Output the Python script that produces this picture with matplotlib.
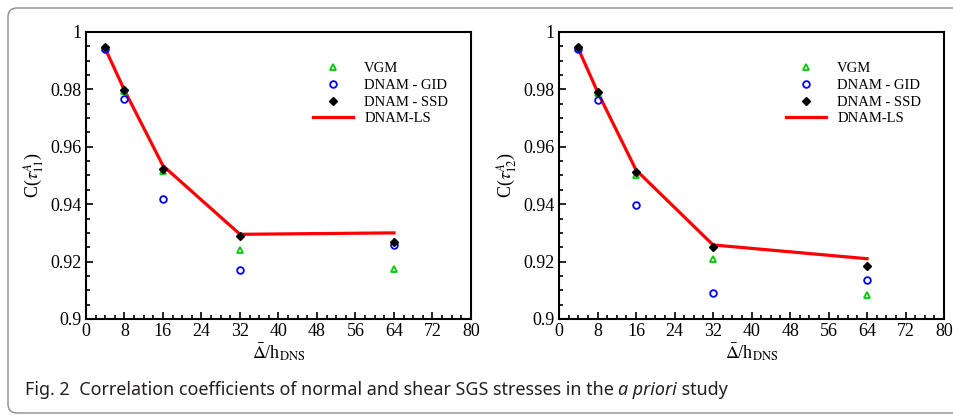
import numpy as np
import matplotlib
matplotlib.use('Agg')
import matplotlib.pyplot as plt
from matplotlib.patches import FancyBboxPatch
from matplotlib.transforms import IdentityTransform
from matplotlib.ticker import MultipleLocator

# filter width ratio
x_vals = [4, 8, 16, 32, 64]

# normal stress tau_11
vgm_11 = [0.9944, 0.9793, 0.9515, 0.9240, 0.9173]
gid_11 = [0.9941, 0.9767, 0.9418, 0.9169, 0.9258]
ssd_11 = [0.9949, 0.9797, 0.9524, 0.9288, 0.9267]
ls_11  = [0.9942, 0.9797, 0.9534, 0.9295, 0.9300]

# shear stress tau_12
vgm_12 = [0.9944, 0.9788, 0.9503, 0.9210, 0.9085]
gid_12 = [0.9940, 0.9762, 0.9396, 0.9091, 0.9136]
ssd_12 = [0.9948, 0.9790, 0.9513, 0.9251, 0.9186]
ls_12  = [0.9942, 0.9791, 0.9519, 0.9258, 0.9210]

y_ticks = [0.9, 0.92, 0.94, 0.96, 0.98, 1.0]
y_ticklabels = ['0.9', '0.92', '0.94', '0.96', '0.98', '1']
ylabels = [r'C($\tau_{11}^{A}$)', r'C($\tau_{12}^{A}$)']
xlabel = r'$\bar{\Delta}$/h$_{\rm DNS}$'

SERIF = ['Liberation Serif', 'DejaVu Serif']
SANS = ['Noto Sans', 'DejaVu Sans']
plt.rcParams['font.family'] = SERIF
plt.rcParams['mathtext.fontset'] = 'stix'

fig = plt.figure(figsize=(9.54, 4.16), dpi=100)
ax1 = fig.add_axes([0.0901, 0.2332, 0.4036, 0.690])
ax2 = fig.add_axes([0.5860, 0.2332, 0.4036, 0.690])

panels = [
    (ax1, vgm_11, gid_11, ssd_11, ls_11, ylabels[0]),
    (ax2, vgm_12, gid_12, ssd_12, ls_12, ylabels[1]),
]

for ax, vgm, gid, ssd, ls, ylab in panels:
    ax.plot(x_vals, ls, color='#ff0000', linewidth=2.3, label='DNAM-LS', zorder=2)
    ax.plot(x_vals, vgm, linestyle='none', marker='^', markersize=4.5,
            markerfacecolor='none', markeredgecolor='#00c800', markeredgewidth=1.3,
            label='VGM', zorder=3)
    ax.plot(x_vals, gid, linestyle='none', marker='o', markersize=4.8,
            markerfacecolor='none', markeredgecolor='#0000ff', markeredgewidth=1.3,
            label='DNAM - GID', zorder=3)
    ax.plot(x_vals, ssd, linestyle='none', marker='D', markersize=4.5,
            color='black', label='DNAM - SSD', zorder=4)

    ax.set_xlim(0, 80)
    ax.set_ylim(0.9, 1.0)
    ax.xaxis.set_major_locator(MultipleLocator(8))
    ax.xaxis.set_minor_locator(MultipleLocator(2))
    ax.yaxis.set_minor_locator(MultipleLocator(0.005))
    ax.set_yticks(y_ticks)
    ax.set_yticklabels(y_ticklabels)
    ax.tick_params(which='both', direction='in', top=False, right=False,
                   labelsize=13, width=1.2, pad=3)
    ax.tick_params(which='major', length=5)
    ax.tick_params(which='minor', length=3)
    for lbl in ax.get_xticklabels() + ax.get_yticklabels():
        lbl.set_fontfamily(SERIF)
    for spine in ax.spines.values():
        spine.set_linewidth(1.5)

    ax.set_xlabel(xlabel, fontsize=13, labelpad=1)
    ax.set_ylabel(ylab, fontsize=13, labelpad=3)

    h, l = ax.get_legend_handles_labels()
    order = [1, 2, 3, 0]
    ax.legend([h[i] for i in order], [l[i] for i in order],
              loc='upper left', bbox_to_anchor=(0.59, 0.895),
              frameon=False, fontsize=10.5, borderpad=0, borderaxespad=0,
              handlelength=2.75, handletextpad=0.75, labelspacing=0.24)

# outer rounded frame
frame = FancyBboxPatch((8, 3), 980, 405, boxstyle='round,pad=0,rounding_size=9',
                       transform=IdentityTransform(), facecolor='none',
                       edgecolor='#8c8c8c', linewidth=1.0, figure=fig)
fig.patches.append(frame)

# caption
cap_kw = dict(fontsize=12.9, family=SANS, color='#231f20', va='center')
t1 = fig.text(25 / 954, 1 - 390 / 416, 'Fig. 2', fontweight='bold', **cap_kw)
t2 = fig.text(0, 0, '')
t2 = plt.annotate('  Correlation coefficients of normal and shear SGS stresses in the ',
                  xy=(1, 0.5), xycoords=t1, **cap_kw)
t3 = plt.annotate('a priori', xy=(1, 0.5), xycoords=t2, style='italic', **cap_kw)
plt.annotate(' study', xy=(1, 0.5), xycoords=t3, **cap_kw)

fig.savefig('out.png', dpi=100)
